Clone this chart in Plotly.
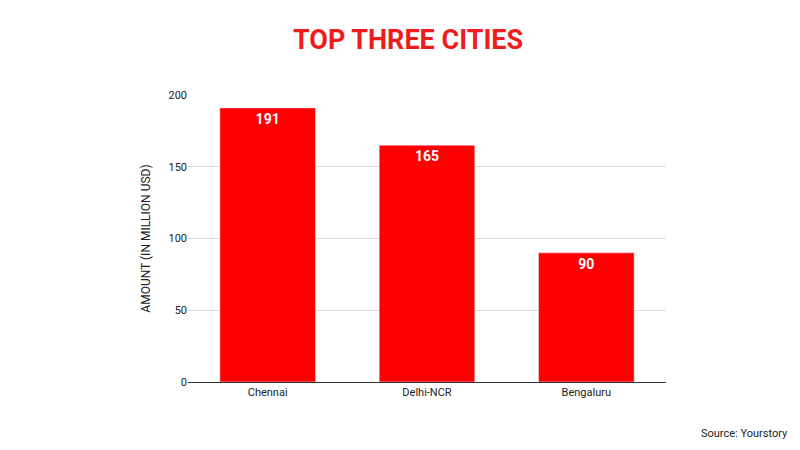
import plotly.graph_objects as go

cities = ["Chennai", "Delhi-NCR", "Bengaluru"]
amounts = [191, 165, 90]

fig = go.Figure(go.Bar(
    x=cities, y=amounts, marker_color="#ff0000",
    text=[str(v) for v in amounts], textposition="inside", insidetextanchor="end",
    texttemplate="<b>%{text}</b>",
    textfont=dict(color="white", size=14, family="Roboto"),
    width=0.6,
))
fig.update_layout(
    width=800, height=450, plot_bgcolor="white", paper_bgcolor="white",
    margin=dict(l=180, r=142, t=87, b=76),
    title=dict(text="<b>TOP THREE CITIES</b>", x=0.5, xanchor="center", y=0.93, yanchor="middle",
               font=dict(family="Roboto", size=27, color="#ee1c1c")),
    font=dict(family="Roboto", size=11, color="#222"),
    yaxis=dict(range=[0, 200], tickvals=[0, 50, 100, 150, 200], gridcolor="#d9d9d9",
               zeroline=False, showline=False, ticks="", ticklen=0,
               title=dict(text="AMOUNT (IN MILLION USD)", font=dict(size=12, color="#222")),
               automargin=False),
    xaxis=dict(showline=True, linecolor="#333", linewidth=1, ticks=""),
    showlegend=False,
    annotations=[dict(text="Source: Yourstory", x=1.26, y=-0.18, xref="paper", yref="paper",
                      xanchor="right", yanchor="middle",
                      showarrow=False, font=dict(size=11, color="#222"))],
)
fig.write_html("out.html")
